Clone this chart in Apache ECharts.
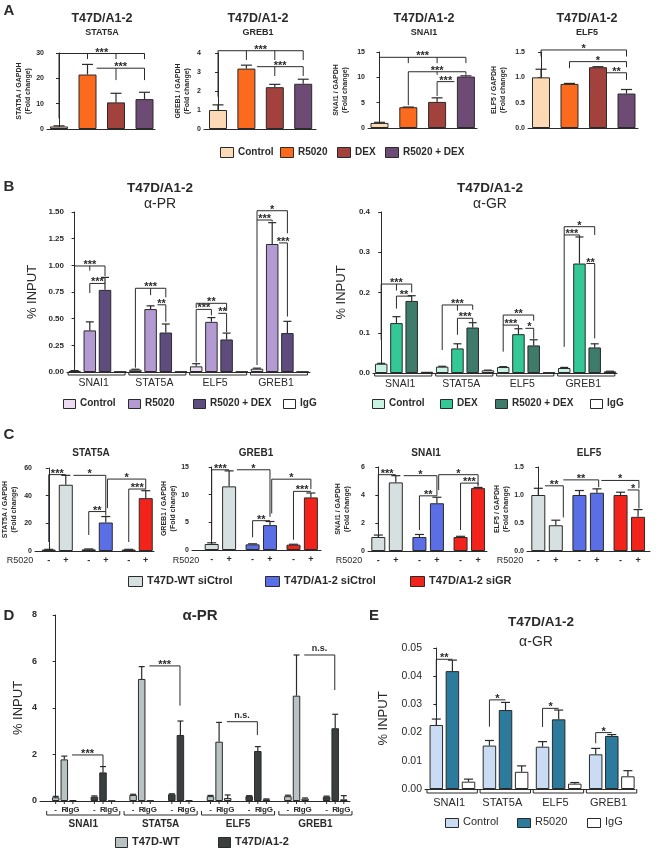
<!DOCTYPE html>
<html>
<head>
<meta charset="utf-8">
<script src="https://cdn.jsdelivr.net/npm/echarts@6.0.0/dist/echarts.min.js"></script>
<style>
html,body{margin:0;padding:0;background:#ffffff;}
#chart{width:660px;height:850px;}
</style>
</head>
<body>
<div id="chart"></div>
<script>
// ======================= DATA =======================
const genes = ['SNAI1', 'STAT5A', 'ELF5', 'GREB1'];

// ---- Panel A (qPCR, fold change) ----
const aTreatments = ['Control', 'R5020', 'DEX', 'R5020 + DEX'];
const aGenes = ['STAT5A', 'GREB1', 'SNAI1', 'ELF5'];
const aSTAT5A = [1.0, 21.5, 10.5, 11.8];
const aSTAT5AErr = [0.25, 4.0, 3.6, 2.7];
const aGREB1 = [1.0, 3.18, 2.2, 2.38];
const aGREB1Err = [0.27, 0.18, 0.15, 0.24];
const aSNAI1 = [1.0, 4.1, 5.15, 10.15];
const aSNAI1Err = [0.12, 0.04, 0.8, 0.15];
const aELF5 = [1.0, 0.87, 1.2, 0.68];
const aELF5Err = [0.16, 0.01, 0.01, 0.08];
const aTicksSTAT5A = ['0', '10', '20', '30'];
const aTicksGREB1 = ['0', '1', '2', '3', '4'];
const aTicksSNAI1 = ['0', '5', '10', '15'];
const aTicksELF5 = ['0.0', '0.5', '1.0', '1.5'];
const aSigSTAT5A = [
  {from:0, to:3, y:29.8, legs:[[0,4.2],[1,27.6],[2,27.6],[3,27.6]], t:'***'},
  {from:1.32, to:3, y:24, legs:[[2,19.3],[3,19.3]], t:'***'}];
const aSigGREB1 = [
  {from:0, to:3, y:4.12, legs:[[0,1.7],[1,3.63],[2,3.63],[3,3.63]], t:'***'},
  {from:1.37, to:3, y:3.28, legs:[[2,2.79],[3,2.79]], t:'***'}];
const aSigSNAI1 = [
  {from:0, to:3, y:13.95, legs:[[0,1.9],[1,12.8],[2,12.8],[3,12.8]], t:'***'},
  {from:1, to:3, y:11.1, legs:[[1,4.5],[2,10.5],[3,10.5]], t:'***'},
  {from:2, to:2.6, y:9.15, legs:[[2,6.3]], t:'***'}];
const aSigELF5 = [
  {from:0, to:3, y:1.54, legs:[[0,1.41],[3,1.41]], t:'*'},
  {from:1, to:3, y:1.31, legs:[[1,1.18],[3,1.2]], t:'*'},
  {from:2.3, to:3, y:1.09, legs:[[3,0.95]], t:'**'}];

// ---- Panel B (ChIP, % input) ----
const bTreatPR = ['Control', 'R5020', 'R5020 + DEX', 'IgG'];
const bPR_Control = [0.010, 0.022, 0.053, 0.031];
const bPR_ControlErr = [0.003, 0.004, 0.025, 0.005];
const bPR_R5020 = [0.39, 0.59, 0.47, 1.20];
const bPR_R5020Err = [0.08, 0.03, 0.04, 0.20];
const bPR_RDEX = [0.77, 0.37, 0.305, 0.365];
const bPR_RDEXErr = [0.117, 0.08, 0.06, 0.11];
const bPR_IgG = [0.004, 0.004, 0.003, 0.003];
const bPR_IgGErr = [0, 0, 0, 0];
const bTicksPR = ['0.00', '0.25', '0.50', '0.75', '1.00', '1.25', '1.50'];
const bSigPR = [
  {from:0, to:2, y:0.994, legs:[[0,0.05],[1,0.95],[2,0.9]], t:'***'},
  {from:1, to:2, y:0.83, legs:[[1,0.74]], t:'***'},
  {from:4, to:6, y:0.785, legs:[[4,0.04],[5,0.72],[6,0.70]], t:'***'},
  {from:5.45, to:6, y:0.63, legs:[[6,0.47]], t:'**'},
  {from:8, to:10, y:0.644, legs:[[8,0.6],[10,0.575]], t:'**'},
  {from:8, to:9, y:0.587, legs:[[8,0.09],[9,0.53]], t:'***'},
  {from:9.45, to:10, y:0.55, legs:[[10,0.375]], t:'**'},
  {from:12, to:14, y:1.512, legs:[[12,0.065],[14,1.3]], t:'*'},
  {from:12, to:13, y:1.425, legs:[[13,1.41]], t:'***'},
  {from:13.45, to:14, y:1.21, legs:[[14,0.52]], t:'***'}];

const bTreatGR = ['Control', 'DEX', 'R5020 + DEX', 'IgG'];
const bGR_Control = [0.023, 0.0157, 0.0148, 0.0124];
const bGR_ControlErr = [0.001, 0.001, 0.001, 0.0015];
const bGR_DEX = [0.124, 0.061, 0.0965, 0.272];
const bGR_DEXErr = [0.016, 0.0116, 0.0135, 0.066];
const bGR_RDEX = [0.179, 0.113, 0.0685, 0.0635];
const bGR_RDEXErr = [0.013, 0.012, 0.014, 0.009];
const bGR_IgG = [0.003, 0.0066, 0.0015, 0.004];
const bGR_IgGErr = [0, 0.0005, 0, 0.0005];
const bTicksGR = ['0.0', '0.1', '0.2', '0.3', '0.4'];
const bSigGR = [
  {from:0, to:2, y:0.221, legs:[[0,0.082],[1,0.205],[2,0.2]], t:'***'},
  {from:1, to:2, y:0.191, legs:[[1,0.16]], t:'**'},
  {from:4, to:6, y:0.169, legs:[[4,0.057],[5,0.155],[6,0.157]], t:'***'},
  {from:5, to:6, y:0.136, legs:[[5,0.095],[6,0.126]], t:'***'},
  {from:8, to:10, y:0.144, legs:[[8,0.053],[10,0.13]], t:'**'},
  {from:8, to:9, y:0.119, legs:[[9,0.111]], t:'***'},
  {from:9.45, to:10, y:0.111, legs:[[10,0.085]], t:'*'},
  {from:12, to:14, y:0.3635, legs:[[12,0.065],[14,0.343]], t:'*'},
  {from:12, to:13, y:0.343, legs:[[13,0.338]], t:'***'},
  {from:13.45, to:14, y:0.272, legs:[[14,0.086]], t:'**'}];

// ---- Panel C (siRNA, fold change) ----
const cCells = ['T47D-WT siCtrol', 'T47D/A1-2 siCtrol', 'T47D/A1-2 siGR'];
const cR5020 = ['-', '+'];
const cGenes = ['STAT5A', 'GREB1', 'SNAI1', 'ELF5'];
const cSTAT5A = [1.0, 47.9, 1.2, 20.6, 1.0, 38.2];
const cSTAT5AErr = [0.2, 6.8, 0.3, 4.3, 0.2, 5.4];
const cGREB1 = [1.08, 11.5, 1.02, 4.5, 0.96, 9.5];
const cGREB1Err = [0.22, 2.8, 0.1, 0.65, 0.08, 0.8];
const cSNAI1 = [1.0, 4.9, 1.0, 3.41, 1.0, 4.49];
const cSNAI1Err = [0.14, 0.48, 0.18, 0.43, 0.05, 0.05];
const cELF5 = [1.0, 0.46, 1.0, 1.04, 1.0, 0.61];
const cELF5Err = [0.12, 0.09, 0.08, 0.07, 0.05, 0.13];
const cTicksSTAT5A = ['0', '20', '40', '60'];
const cTicksGREB1 = ['0', '5', '10', '15'];
const cTicksSNAI1 = ['0', '2', '4', '6'];
const cTicksELF5 = ['0.0', '0.5', '1.0', '1.5'];
const cSigSTAT5A = [
  {from:0, to:1, y:55.2, legs:[[0,6.5]], t:'***'},
  {from:1.45, to:3.35, y:54.7, legs:[[3.35,25.5]], t:'*'},
  {from:2.35, to:3.35, y:28.5, legs:[[2.35,11.6]], t:'**'},
  {from:3.45, to:5.7, y:52, legs:[[3.45,31],[5.7,44.5]], t:'*'},
  {from:4.7, to:5.7, y:44.8, legs:[[4.7,6.5]], t:'***'}];
const cSigGREB1 = [
  {from:0, to:1, y:14.5, legs:[[0,1.85]], t:'***'},
  {from:1.45, to:3.35, y:14.5, legs:[[3.35,6.0]], t:'*'},
  {from:2.35, to:3.35, y:5.3, legs:[[2.35,2.3]], t:'**'},
  {from:3.45, to:5.7, y:12.8, legs:[[3.45,6.6],[5.7,11]], t:'*'},
  {from:4.7, to:5.7, y:10.6, legs:[[4.7,1.85]], t:'***'}];
const cSigSNAI1 = [
  {from:0, to:1, y:5.45, legs:[[0,1.5]], t:'***'},
  {from:1.45, to:3.35, y:5.38, legs:[[3.35,3.95]], t:'*'},
  {from:2.35, to:3.35, y:3.94, legs:[[2.35,1.5]], t:'**'},
  {from:3.45, to:5.7, y:5.45, legs:[[3.45,4.35],[5.7,4.75]], t:'*'},
  {from:4.7, to:5.7, y:4.85, legs:[[4.7,1.5],[5.7,4.6]], t:'***'}];
const cSigELF5 = [
  {from:0.38, to:1.43, y:1.164, legs:[[1.43,0.6]], t:'**'},
  {from:1.43, to:3.45, y:1.27, legs:[[3.45,1.14]], t:'**'},
  {from:3.6, to:5.75, y:1.26, legs:[[5.75,1.12]], t:'*'},
  {from:5.1, to:5.75, y:1.09, legs:[[5.75,0.76]], t:'*'}];

// ---- Panel D (ChIP a-PR, WT vs A1-2) ----
const dCells = ['T47D-WT', 'T47D/A1-2'];
const dTreat = ['-', 'R', 'IgG'];
const dWT_minus = [0.16, 0.26, 0.21, 0.21];
const dWT_minusErr = [0.04, 0.03, 0.03, 0.04];
const dWT_R = [1.79, 5.25, 2.55, 4.53];
const dWT_RErr = [0.14, 0.53, 0.83, 1.75];
const dWT_IgG = [0.04, 0.02, 0.13, 0.10];
const dWT_IgGErr = [0, 0, 0.13, 0.03];
const dA12_minus = [0.19, 0.29, 0.21, 0.19];
const dA12_minusErr = [0.03, 0.02, 0.02, 0.02];
const dA12_R = [1.23, 2.84, 2.15, 3.13];
const dA12_RErr = [0.25, 0.60, 0.19, 0.60];
const dA12_IgG = [0.01, 0.04, 0.07, 0.07];
const dA12_IgGErr = [0, 0, 0.02, 0.16];
const dTicks = ['0', '2', '4', '6', '8'];
const dSig = [
  {from:1.9, to:5.5, y:1.98, legs:[[5.5,1.5]], t:'***'},
  {from:10.9, to:14.45, y:5.81, legs:[[14.45,4.1]], t:'***'},
  {from:19.9, to:23.45, y:3.41, legs:[[23.45,2.84]], t:'n.s.'},
  {from:28.9, to:32.45, y:6.28, legs:[[32.45,4.77]], t:'n.s.'}];

// ---- Panel E (ChIP a-GR) ----
const eTreat = ['Control', 'R5020', 'IgG'];
const eControl = [0.0227, 0.0154, 0.0150, 0.0123];
const eControlErr = [0.0021, 0.0018, 0.0018, 0.0021];
const eR5020 = [0.0418, 0.0280, 0.0247, 0.0188];
const eR5020Err = [0.0039, 0.0027, 0.0033, 0.0005];
const eIgG = [0.0026, 0.0061, 0.0019, 0.0045];
const eIgGErr = [0.0009, 0.0021, 0.0004, 0.0020];
const eTicks = ['0.00', '0.01', '0.02', '0.03', '0.04', '0.05'];
const eSig = [
  {from:0, to:1, y:0.046, legs:[[0,0.0292]], t:'**'},
  {from:3.3, to:4.3, y:0.0316, legs:[[3.3,0.0221]], t:'*'},
  {from:6.6, to:7.6, y:0.0286, legs:[[6.6,0.022]], t:'*'},
  {from:9.9, to:10.9, y:0.0200, legs:[[9.9,0.0162]], t:'*'}];

// ======================= STYLE / LAYOUT =======================
const INK = '#2a2a2a';
const FF = "'Liberation Sans', Arial, Helvetica, sans-serif";
const colA = ['#fdd9b5', '#fc6a1e', '#a3413c', '#6d4b74'];
const colBPR = ['#ecdcf2', '#b49ad2', '#5d4c7d', '#ffffff'];
const colBGR = ['#c8f3e2', '#33c896', '#3e7b6a', '#ffffff'];
const colC = ['#d7e0e0', '#5a6fe6', '#f2231b'];
const colD = ['#b8c2c2', '#3a3e3e'];
const colE = ['#c9dcf4', '#2c7b9c', '#ffffff'];

const grids = [], xAxes = [], yAxes = [], series = [], graphics = [];

function font(size, weight) { return (weight || 'normal') + ' ' + size + 'px ' + FF; }
function text(x, y, s, size, weight, align, valign) {
  graphics.push({type:'text', silent:true, z:10, style:{x:x, y:y, text:s, font:font(size, weight), fill:INK,
    textAlign:align || 'center', textVerticalAlign:valign || 'middle', align:align || 'center', verticalAlign:valign || 'middle'}});
}
function legend(items, y, size, weight, bw, bh) {
  items.forEach(function(it) {
    graphics.push({type:'rect', silent:true, z:10, shape:{x:it.x + 0.5, y:Math.round(y - bh / 2) + 0.5, width:bw, height:bh},
      style:{fill:it.color, stroke:INK, lineWidth:1}});
    text(it.x + bw + 5, y, it.label, size, weight, 'left', 'middle');
  });
}
function panel(c) {
  const i = grids.length;
  const tv = c.ticks.map(Number);
  const xmin = -(c.first - c.axisX) / c.unit, xmax = (c.rightX - c.first) / c.unit;
  grids.push({left:c.axisX, top:c.top, width:c.rightX - c.axisX, height:c.bottom - c.top});
  xAxes.push({gridIndex:i, type:'value', min:xmin, max:xmax,
    axisLine:{show:true, onZero:false, lineStyle:{color:INK, width:1}},
    axisTick:{show:false}, axisLabel:{show:false}, splitLine:{show:false}});
  yAxes.push({gridIndex:i, type:'value', min:tv[0], max:tv[tv.length - 1], interval:tv[1] - tv[0],
    axisLine:{show:true, lineStyle:{color:INK, width:1}},
    axisTick:{show:true, inside:false, length:3, lineStyle:{color:INK, width:1}},
    splitLine:{show:false},
    axisLabel:{fontSize:c.tickSize, fontFamily:FF, fontWeight:c.tickWeight || 'bold', color:INK, margin:3,
      formatter:function(v) { const k = tv.findIndex(function(t) { return Math.abs(t - v) < 1e-6; }); return k >= 0 ? c.ticks[k] : ''; }},
    name:c.yName, nameLocation:'middle', nameRotate:90, nameGap:c.nameGap,
    nameTextStyle:{fontFamily:FF, fontSize:c.nameSize, fontWeight:c.nameWeight || 'bold', color:INK,
      lineHeight:Math.round(c.nameSize * 1.25)}});
  return i;
}
function addBars(i, pts, bw, cap) {
  series.push({type:'bar', xAxisIndex:i, yAxisIndex:i, barWidth:bw, barGap:'-100%', silent:true, z:2,
    itemStyle:{borderColor:INK, borderWidth:1},
    data:pts.map(function(p) { return {value:[p.x, p.v], itemStyle:{color:p.color}}; })});
  series.push({type:'custom', xAxisIndex:i, yAxisIndex:i, silent:true, clip:false, z:3,
    data:pts.map(function(p) { return [p.x, p.v, p.e]; }),
    renderItem:function(params, api) {
      const e = api.value(2); if (!e) return null;
      const a = api.coord([api.value(0), api.value(1)]);
      const b = api.coord([api.value(0), api.value(1) + e]);
      return {type:'group', children:[
        {type:'line', shape:{x1:a[0], y1:a[1], x2:b[0], y2:b[1]}, style:{stroke:INK, lineWidth:1.2}},
        {type:'line', shape:{x1:b[0] - cap, y1:b[1], x2:b[0] + cap, y2:b[1]}, style:{stroke:INK, lineWidth:1.2}}]};
    }});
}
function addSig(i, list, fs) {
  series.push({type:'custom', xAxisIndex:i, yAxisIndex:i, silent:true, clip:false, z:4,
    data:list.map(function(b) { return [b.from, b.y]; }),
    renderItem:function(params, api) {
      const b = list[params.dataIndex];
      const L = api.coord([b.from, b.y]), R = api.coord([b.to, b.y]);
      const ch = [{type:'line', shape:{x1:L[0], y1:L[1], x2:R[0], y2:R[1]}, style:{stroke:INK, lineWidth:1}}];
      (b.legs || []).forEach(function(l) {
        const p = api.coord(l);
        ch.push({type:'line', shape:{x1:p[0], y1:L[1], x2:p[0], y2:p[1]}, style:{stroke:INK, lineWidth:1}});
      });
      const star = b.t.indexOf('*') >= 0;
      ch.push({type:'text', style:{text:b.t, x:(L[0] + R[0]) / 2, y:star ? L[1] - 1 : L[1] - 1.5,
        font:font(star ? fs : Math.round(fs * 0.8), 'bold'), fill:INK,
        textAlign:'center', align:'center',
        textVerticalAlign:star ? 'middle' : 'bottom', verticalAlign:star ? 'middle' : 'bottom'}});
      return {type:'group', children:ch};
    }});
}
function addGroupBrackets(i, groups, o) {
  series.push({type:'custom', xAxisIndex:i, yAxisIndex:i, silent:true, clip:false, z:4,
    data:groups.map(function(g) { return [g.from, 0]; }),
    renderItem:function(params, api) {
      const g = groups[params.dataIndex];
      const L = api.coord([g.from, 0]), R = api.coord([g.to, 0]);
      const y = L[1] + o.dy;
      const st = {stroke:INK, lineWidth:1};
      const ch = [
        {type:'line', shape:{x1:L[0], y1:y, x2:R[0], y2:y}, style:st},
        {type:'line', shape:{x1:L[0], y1:y, x2:L[0], y2:y - o.up}, style:st},
        {type:'line', shape:{x1:R[0], y1:y, x2:R[0], y2:y - o.up}, style:st},
        {type:'text', style:{text:g.label, x:(L[0] + R[0]) / 2 + (o.labelDx || 0), y:L[1] + o.labelDy,
          font:font(o.size, o.weight), fill:INK, textAlign:'center', align:'center', textVerticalAlign:'middle', verticalAlign:'middle'}}];
      return {type:'group', children:ch};
    }});
}
function addBarLabels(i, xs, labels, o) {
  series.push({type:'custom', xAxisIndex:i, yAxisIndex:i, silent:true, clip:false, z:4,
    data:xs.map(function(x) { return [x, 0]; }),
    renderItem:function(params, api) {
      const p = api.coord([api.value(0), 0]);
      const ch = [{type:'text', style:{text:labels[params.dataIndex], x:p[0], y:p[1] + o.dy, font:font(o.size, o.weight),
        fill:INK, textAlign:'center', align:'center', textVerticalAlign:'middle', verticalAlign:'middle'}}];
      if (o.tick) ch.push({type:'line', shape:{x1:p[0], y1:p[1], x2:p[0], y2:p[1] + o.tick}, style:{stroke:INK, lineWidth:1}});
      return {type:'group', children:ch};
    }});
}

// ======================= PANEL A =======================
text(9, 11, 'A', 15, 'bold');
const aVals = [aSTAT5A, aGREB1, aSNAI1, aELF5];
const aErrs = [aSTAT5AErr, aGREB1Err, aSNAI1Err, aELF5Err];
const aTicks = [aTicksSTAT5A, aTicksGREB1, aTicksSNAI1, aTicksELF5];
const aSigs = [aSigSTAT5A, aSigGREB1, aSigSNAI1, aSigELF5];
const aLay = [
  {axisX:47, rightX:155, top:53, bottom:129, first:59, unit:28.5, titleX:102, nameGap:14},
  {axisX:204, rightX:316, top:53, bottom:129, first:218, unit:28.4, titleX:258, nameGap:12},
  {axisX:368, rightX:477, top:52, bottom:128, first:379.5, unit:28.8, titleX:424, nameGap:18},
  {axisX:528, rightX:638, top:52, bottom:128, first:541, unit:28.5, titleX:587, nameGap:20}];
aLay.forEach(function(L, k) {
  const i = panel(Object.assign({ticks:aTicks[k], tickSize:7, yName:aGenes[k] + ' / GAPDH\n(Fold change)', nameSize:7}, L));
  addBars(i, aVals[k].map(function(v, s) { return {x:s, v:v, e:aErrs[k][s], color:colA[s]}; }), 18, 5.5);
  addSig(i, aSigs[k], 11);
  text(L.titleX, 19, 'T47D/A1-2', 12.5, 'bold');
  text(L.titleX, 33, aGenes[k], 9, 'bold');
});
legend(aTreatments.map(function(t, s) { return {x:[220, 280, 337, 385][s], label:t, color:colA[s]}; }), 152, 10, 'bold', 13, 10);

// ======================= PANEL B =======================
text(9, 187, 'B', 15, 'bold');
function bPanel(L, vals, errs, cols, ticks, sig, titleX, sub) {
  const i = panel(Object.assign({ticks:ticks, tickSize:8, yName:'% INPUT', nameSize:13, nameWeight:'normal'}, L));
  const pts = [];
  vals.forEach(function(arr, s) { arr.forEach(function(v, g) { pts.push({x:g * 4 + s, v:v, e:errs[s][g], color:cols[s]}); }); });
  addBars(i, pts, 12.5, 4);
  addSig(i, sig, 11);
  addGroupBrackets(i, genes.map(function(gn, g) { return {from:g * 4 - 0.43, to:g * 4 + 3.32, label:gn}; }),
    {dy:3, up:3, labelDy:11.5, size:10.5, weight:'normal', labelDx:-3});
  text(titleX, 188, 'T47D/A1-2', 13.5, 'bold');
  text(titleX, 204, sub, 14, 'normal');
}
bPanel({axisX:67, rightX:310, top:212, bottom:372, first:74.6, unit:15.2, nameGap:27},
  [bPR_Control, bPR_R5020, bPR_RDEX, bPR_IgG], [bPR_ControlErr, bPR_R5020Err, bPR_RDEXErr, bPR_IgGErr],
  colBPR, bTicksPR, bSigPR, 160, '\u03b1-PR');
bPanel({axisX:373, rightX:617, top:212, bottom:373, first:381.2, unit:15.25, nameGap:24},
  [bGR_Control, bGR_DEX, bGR_RDEX, bGR_IgG], [bGR_ControlErr, bGR_DEXErr, bGR_RDEXErr, bGR_IgGErr],
  colBGR, bTicksGR, bSigGR, 490, '\u03b1-GR');
legend(bTreatPR.map(function(t, s) { return {x:[63, 128, 193, 283][s], label:t, color:colBPR[s]}; }), 403, 10, 'bold', 12, 9);
legend(bTreatGR.map(function(t, s) { return {x:[372, 440, 495, 590][s], label:t, color:colBGR[s]}; }), 403, 10, 'bold', 12, 9);

// ======================= PANEL C =======================
text(9, 435, 'C', 15, 'bold');
const cVals = [cSTAT5A, cGREB1, cSNAI1, cELF5];
const cErrs = [cSTAT5AErr, cGREB1Err, cSNAI1Err, cELF5Err];
const cTicks = [cTicksSTAT5A, cTicksGREB1, cTicksSNAI1, cTicksELF5];
const cSigs = [cSigSTAT5A, cSigGREB1, cSigSNAI1, cSigELF5];
const cLay = [
  {axisX:33, rightX:154, top:468, bottom:551, first:47, unit:17.3, titleX:91, nameGap:16, rX:20},
  {axisX:192, rightX:321, top:467, bottom:550, first:211.7, unit:17.4, titleX:256, nameGap:11, rX:186},
  {axisX:368, rightX:487, top:467, bottom:551, first:378.3, unit:17.5, titleX:426, nameGap:16, rX:349},
  {axisX:527, rightX:650, top:467, bottom:551, first:538.3, unit:17.5, titleX:589, nameGap:15, rX:510}];
cLay.forEach(function(L, k) {
  const i = panel(Object.assign({ticks:cTicks[k], tickSize:7, yName:cGenes[k] + ' / GAPDH\n(Fold change)', nameSize:7}, L));
  const xs = cVals[k].map(function(v, j) { return Math.floor(j / 2) * 2.35 + (j % 2); });
  addBars(i, cVals[k].map(function(v, j) { return {x:xs[j], v:v, e:cErrs[k][j], color:colC[Math.floor(j / 2)]}; }), 14, 4.5);
  addSig(i, cSigs[k], 11);
  addBarLabels(i, xs, xs.map(function(x, j) { return cR5020[j % 2]; }), {dy:9.5, size:9, weight:'bold'});
  text(L.rX, 560.5, 'R5020', 9, 'normal');
  text(L.titleX, 453, cGenes[k], 10, 'bold');
});
legend(cCells.map(function(t, s) { return {x:[128, 265, 410][s], label:t, color:colC[s]}; }), 581, 11, 'bold', 14, 10);

// ======================= PANEL D =======================
text(9, 616, 'D', 15, 'bold');
(function() {
  const i = panel({axisX:40, rightX:350, top:615, bottom:801, first:55.7, unit:8.6, ticks:dTicks, tickSize:9,
    yName:'% INPUT', nameSize:13, nameWeight:'normal', nameGap:14});
  const cellVals = [[dWT_minus, dWT_R, dWT_IgG], [dA12_minus, dA12_R, dA12_IgG]];
  const cellErrs = [[dWT_minusErr, dWT_RErr, dWT_IgGErr], [dA12_minusErr, dA12_RErr, dA12_IgGErr]];
  const pts = [], xs = [], labs = [];
  genes.forEach(function(gn, g) {
    cellVals.forEach(function(tr, c) {
      tr.forEach(function(arr, s) {
        const x = g * 9 + c * 4.5 + s;
        pts.push({x:x, v:arr[g], e:cellErrs[c][s][g], color:colD[c]});
        xs.push(x); labs.push(dTreat[s]);
      });
    });
  });
  addBars(i, pts, 7.5, 3);
  addSig(i, dSig, 11);
  addBarLabels(i, xs, labs, {dy:9, size:8, weight:'bold', tick:3});
  addGroupBrackets(i, genes.map(function(gn, g) { return {from:g * 9 - 1.05, to:g * 9 + 7.45, label:gn}; }),
    {dy:14, up:4, labelDy:23, size:10, weight:'bold'});
  text(200, 616, '\u03b1-PR', 15, 'bold');
})();
legend(dCells.map(function(t, s) { return {x:[115, 218][s], label:t, color:colD[s]}; }), 842, 11, 'bold', 12, 10);

// ======================= PANEL E =======================
text(374, 616, 'E', 15, 'bold');
(function() {
  const i = panel({axisX:425, rightX:635, top:648, bottom:789, first:436.3, unit:16.1, ticks:eTicks, tickSize:10.5,
    tickWeight:'normal', yName:'% INPUT', nameSize:13, nameWeight:'normal', nameGap:34});
  const vals = [eControl, eR5020, eIgG], errs = [eControlErr, eR5020Err, eIgGErr];
  const pts = [];
  vals.forEach(function(arr, s) { arr.forEach(function(v, g) { pts.push({x:g * 3.3 + s, v:v, e:errs[s][g], color:colE[s]}); }); });
  addBars(i, pts, 13.5, 4.5);
  addSig(i, eSig, 11);
  addGroupBrackets(i, genes.map(function(gn, g) { return {from:g * 3.3 - 0.58, to:g * 3.3 + 2.55, label:gn}; }),
    {dy:4, up:4, labelDy:13.5, size:11, weight:'normal', labelDx:-3});
  text(541, 622, 'T47D/A1-2', 13.5, 'bold');
  text(536, 642, '\u03b1-GR', 14, 'normal');
})();
legend(eTreat.map(function(t, s) { return {x:[445, 517, 587][s], label:t, color:colE[s]}; }), 822, 11, 'normal', 13, 9);

// ======================= RENDER =======================
const chart = echarts.init(document.getElementById('chart'), null, {renderer:'canvas'});
chart.setOption({
  animation:false,
  backgroundColor:'#ffffff',
  textStyle:{fontFamily:FF},
  grid:grids, xAxis:xAxes, yAxis:yAxes, series:series, graphic:graphics
});
</script>
</body>
</html>
